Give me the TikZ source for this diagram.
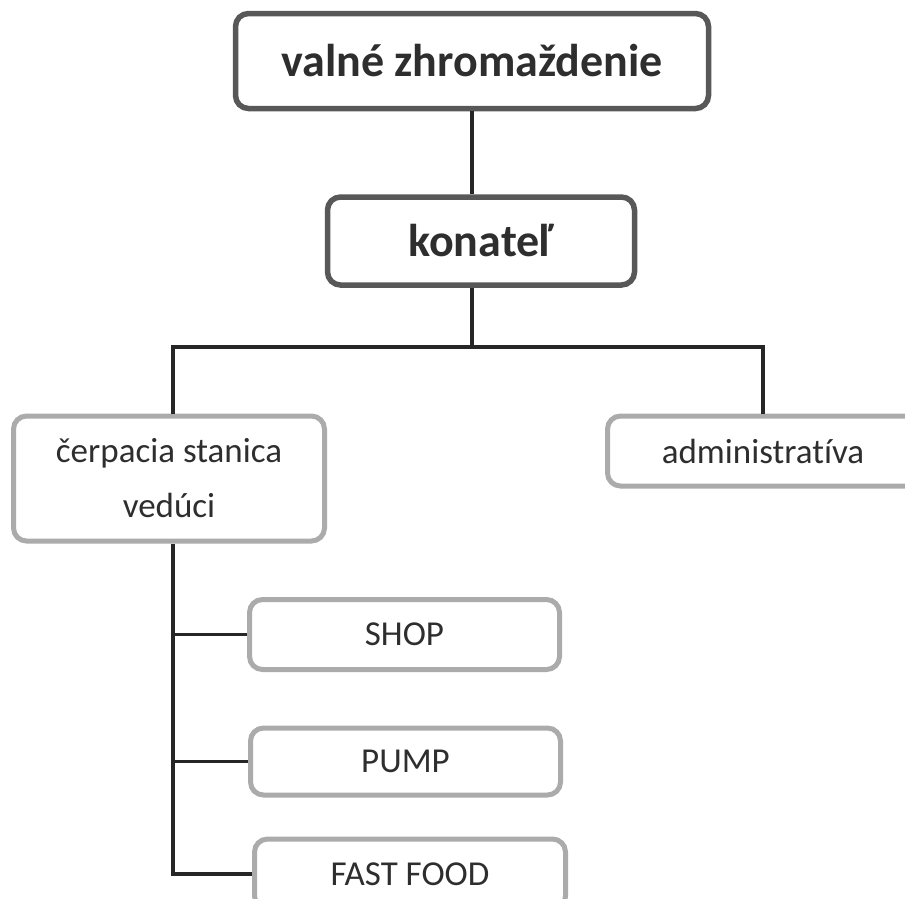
\documentclass[tikz,border=0pt]{standalone}
\usepackage{fontspec}
\setmainfont[Ligatures={NoCommon,NoRare},Contextuals=NoAlternate]{Carlito}
\definecolor{darkedge}{HTML}{585858}
\definecolor{lightedge}{HTML}{ABABAB}
\definecolor{txt}{HTML}{2E2E2E}
\definecolor{wire}{HTML}{262626}
\begin{document}
\begin{tikzpicture}[x=1pt,y=-1pt,
  mainbox/.style={draw=darkedge, line width=5.5pt, rounded corners=13pt, fill=white,
    text=txt, font=\fontsize{46}{50}\selectfont\bfseries, inner sep=0pt},
  subbox/.style={draw=lightedge, line width=5pt, rounded corners=13pt, fill=white,
    text=txt, font=\fontsize{35}{55}\selectfont, inner sep=0pt, align=center},
  wireline/.style={draw=wire, line width=3.8pt}]
\useasboundingbox (0,0) rectangle (905,898);
\clip (0,0) rectangle (905,898);
\fill[white] (0,0) rectangle (905,898);
% boxes
\node[mainbox, minimum width=473pt, minimum height=95pt] (valne) at (472,61) {valné zhromaždenie};
\node[mainbox, minimum width=307pt, minimum height=88pt] (konatel) at (481,241) {konateľ};
\node[subbox, minimum width=311pt, minimum height=125pt] (cerp) at (169,478.5) {\raisebox{-3pt}{čerpacia stanica}\\\raisebox{-3pt}{vedúci}};
\node[subbox, minimum width=311pt, minimum height=70pt] (admin) at (763,451) {administratíva};
\node[subbox, minimum width=310pt, minimum height=70pt] (shop) at (404.5,634.5) {SHOP};
\node[subbox, minimum width=310pt, minimum height=67pt] (pump) at (405.5,761.5) {PUMP};
\node[subbox, minimum width=311pt, minimum height=70pt] (ff) at (410,874) {FAST FOOD};
% connectors
\coordinate (bus) at (472,347);
\coordinate (trunk) at (173,0);
\draw[wireline] (valne.south) -- (valne.south |- konatel.north);
\draw[wireline] (konatel.south -| valne.south) -- (bus);
\draw[wireline] (cerp.north -| trunk) |- (bus) -| (admin.north);
\draw[wireline] (cerp.south -| trunk) |- (ff.west);
\draw[wireline] (trunk |- shop.west) -- (shop.west);
\draw[wireline] (trunk |- pump.west) -- (pump.west);
\end{tikzpicture}
\end{document}
